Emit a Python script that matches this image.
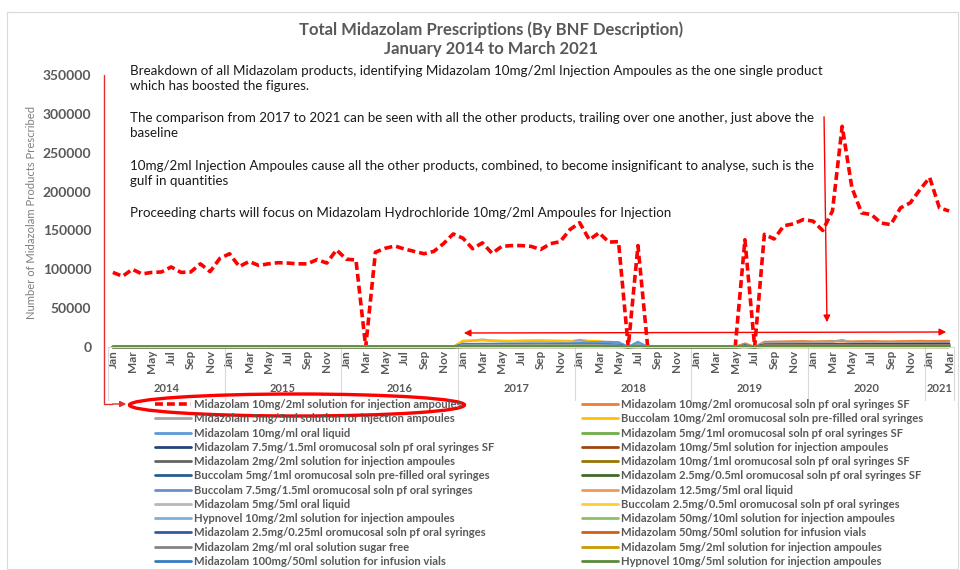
import numpy as np, pandas as pd, matplotlib.pyplot as plt, seaborn as sns
from matplotlib.lines import Line2D
from matplotlib.patches import Ellipse, Rectangle, FancyArrowPatch
import matplotlib.transforms as mtrans

sns.set_style("white")
plt.rcParams["font.family"] = ["Lato", "DejaVu Sans"]

# ---- data ---------------------------------------------------------------
months = pd.date_range("2014-01-01", "2021-03-01", freq="MS")
# months in which the other products were reported (Jan17-May18, Jul18, Jun19, Aug19-Mar21)
other_months = (list(pd.date_range("2017-01-01", "2018-05-01", freq="MS"))
                + [pd.Timestamp("2018-07-01"), pd.Timestamp("2019-06-01")]
                + list(pd.date_range("2019-08-01", "2021-03-01", freq="MS")))

inj_10mg_2ml = [96000, 91000, 100000, 94000, 96000, 96500, 103000, 96000, 96500, 107000, 97000, 114000,
                120000, 103500, 110000, 105000, 107000, 108500, 108000, 107000, 107000, 112500, 108000, 125000,
                113000, 112000, 0, 122000, 127000, 130000, 126000, 123000, 120000, 123000, 133000, 145500,
                140000, 126500, 134000, 120500, 129500, 130500, 130500, 129500, 125500, 133000, 135500, 151000,
                160000, 138000, 147000, 135000, 135500, 0, 130500, 0, 0, 0, 0, 0,
                0, 0, 0, 0, 0, 138000, 0, 145000, 139000, 156000, 158500, 164000,
                162000, 150000, 175000, 284000, 205000, 172500, 170500, 159500, 157500, 179000, 185500, 202500,
                218000, 179000, 175000]

oro_10mg_2ml_sf = [600, 700, 800, 700, 800, 900, 800, 900, 1000, 900, 1000, 1100, 1500, 1800, 2000, 2200, 2400, 3000, 4500,
                   6500, 6800, 7000, 7200, 7400, 7000, 7200, 7600, 7300, 7000, 7200, 7400, 7100, 7000, 7300, 7500, 7700, 7400, 7600, 7800]
inj_5mg_5ml = [7000, 8000, 9500, 8000, 7500, 7000, 7200, 7000, 7300, 7000, 6800, 7000, 9000, 7500, 7000, 6500, 6000, 3500, 2500,
               5000, 5200, 5500, 5400, 5600, 5800, 6500, 6500, 9000, 5500, 5200, 5400, 5300, 5500, 5600, 5800, 6000, 5500, 5300, 5200]
bucc_10mg_2ml = [8000, 8300, 8500, 8200, 8000, 7800, 8200, 8400, 8600, 8200, 8000, 7800, 5000, 7800, 7500, 4000, 3000, 1000, 300,
                 200, 200, 150, 150, 100, 100, 100, 100, 100, 100, 100, 100, 100, 100, 100, 100, 100, 100, 100, 100]
oral_10mg_ml = [3500, 3800, 4000, 4000, 4200, 4000, 4100, 4300, 4200, 4400, 4500, 4600, 5500, 5800, 6000, 6200, 5800, 6500, 1500,
                2500, 2800, 3000, 3000, 3200, 3100, 3300, 3500, 3400, 3300, 3200, 3400, 3300, 3200, 3300, 3400, 3500, 3300, 3200, 3300]
oro_5mg_1ml_sf = [300, 300, 400, 400, 400, 500, 500, 500, 500, 600, 600, 600, 700, 700, 800, 800, 900, 900, 1500,
                  2000, 2100, 2200, 2200, 2300, 2300, 2400, 2500, 2300, 2400, 2400, 2500, 2500, 2600, 2600, 2700, 2700, 2800, 2800, 2900]
oro_7_5mg_sf = [200, 200, 300, 300, 300, 300, 400, 400, 400, 400, 500, 500, 600, 600, 700, 700, 800, 900, 1800,
                3000, 3100, 3200, 3200, 3300, 3300, 3400, 3600, 3400, 3400, 3500, 3500, 3600, 3600, 3700, 3700, 3800, 3800, 3900, 3900]
inj_10mg_5ml = [1500, 1450, 1550, 1500, 1480, 1520, 1500, 1460, 1540, 1500, 1480, 1450, 1500, 1520, 1480, 1460, 1500, 700, 600,
                1400, 1450, 1500, 1480, 1520, 1500, 1550, 1700, 1500, 1480, 1460, 1500, 1520, 1480, 1500, 1450, 1480, 1500, 1520, 1480]
inj_2mg_2ml = [2500, 2600, 2700, 2500, 2400, 2500, 2600, 2500, 2400, 2500, 2600, 2500, 2700, 2600, 2500, 2400, 2300, 1200, 1000,
               2200, 2300, 2400, 2300, 2400, 2500, 2600, 3000, 2500, 2400, 2300, 2400, 2300, 2400, 2500, 2400, 2300, 2400, 2500, 2400]
oro_10mg_1ml_sf = [100, 100, 120, 120, 150, 150, 150, 180, 180, 200, 200, 220, 250, 250, 280, 300, 300, 350, 500,
                   800, 820, 850, 850, 880, 900, 900, 950, 900, 920, 940, 950, 960, 980, 1000, 1000, 1020, 1050, 1050, 1080]
bucc_5mg_1ml = [3200, 3300, 3500, 3400, 3500, 3600, 3500, 3600, 3700, 3600, 3500, 3600, 3800, 3700, 3600, 3000, 2500, 1200, 300,
                300, 280, 260, 250, 240, 230, 220, 210, 200, 200, 190, 180, 180, 170, 170, 160, 160, 150, 150, 150]
oro_2_5mg_sf = [50, 60, 60, 70, 70, 80, 80, 90, 90, 100, 100, 110, 120, 130, 140, 150, 160, 200, 500,
                1000, 1050, 1100, 1100, 1150, 1150, 1200, 1300, 1200, 1200, 1250, 1250, 1300, 1300, 1350, 1350, 1400, 1400, 1450, 1450]
bucc_7_5mg = [2800, 2900, 3000, 3000, 3100, 3100, 3000, 3200, 3200, 3100, 3000, 3100, 3300, 3200, 3100, 2600, 2200, 1000, 250,
              250, 240, 230, 220, 210, 200, 200, 190, 180, 180, 170, 170, 160, 160, 150, 150, 150, 140, 140, 140]
oral_12_5mg_5ml = [80, 90, 100, 90, 100, 110, 100, 110, 120, 110, 100, 110, 120, 130, 120, 110, 120, 60, 80,
                   180, 190, 200, 200, 210, 200, 210, 220, 200, 210, 200, 210, 220, 210, 200, 210, 220, 210, 200, 210]
oral_5mg_5ml = [700, 750, 800, 780, 800, 820, 800, 850, 830, 820, 800, 850, 900, 880, 860, 840, 820, 500, 600,
                1300, 1350, 1400, 1380, 1420, 1450, 1500, 1700, 1500, 1450, 1420, 1450, 1480, 1460, 1450, 1500, 1520, 1480, 1500, 1520]
bucc_2_5mg = [1300, 1350, 1400, 1450, 1400, 1500, 1450, 1500, 1550, 1500, 1450, 1500, 1600, 1550, 1500, 1200, 1000, 500, 100,
              100, 90, 90, 80, 80, 70, 70, 60, 60, 60, 50, 50, 50, 50, 40, 40, 40, 40, 30, 30]
hyp_10mg_2ml = [600, 620, 650, 600, 580, 600, 620, 600, 580, 560, 580, 600, 620, 600, 580, 560, 550, 300, 200,
                400, 420, 410, 400, 390, 400, 420, 500, 420, 400, 390, 380, 400, 410, 400, 390, 380, 400, 410, 400]
inj_50mg_10ml = [700, 720, 750, 700, 680, 700, 720, 700, 680, 700, 720, 740, 760, 740, 720, 700, 690, 350, 300,
                 800, 820, 850, 830, 850, 870, 900, 1100, 950, 900, 880, 860, 880, 900, 880, 860, 880, 900, 920, 900]
oro_2_5mg_025 = [150, 160, 170, 160, 170, 180, 170, 180, 190, 180, 170, 180, 190, 200, 190, 180, 190, 90, 120,
                 200, 210, 200, 210, 220, 210, 220, 230, 220, 210, 220, 210, 220, 230, 220, 210, 220, 230, 220, 210]
inf_50mg_50ml = [900, 950, 1000, 980, 1000, 1020, 1000, 1050, 1030, 1000, 980, 1000, 1100, 1080, 1050, 1020, 1000, 500, 700,
                 1600, 1650, 1700, 1750, 1800, 1850, 1900, 2200, 2100, 1900, 1800, 1850, 1900, 1950, 1900, 1850, 1900, 1950, 2000, 1950]
oral_2mg_ml_sf = [1100, 1150, 1200, 1180, 1200, 1220, 1200, 1250, 1230, 1200, 1180, 1200, 1300, 1280, 1250, 1220, 1200, 600, 800,
                  1800, 1850, 1900, 1880, 1920, 1950, 2000, 2300, 2000, 1950, 1920, 1950, 1980, 1960, 1950, 2000, 2020, 1980, 2000, 2020]
inj_5mg_2ml = [300, 310, 320, 300, 290, 300, 310, 300, 290, 280, 290, 300, 310, 300, 290, 280, 270, 150, 200,
               500, 520, 540, 550, 560, 580, 600, 700, 620, 600, 580, 590, 600, 610, 600, 590, 600, 610, 620, 610]
inf_100mg_50ml = [450, 470, 500, 480, 500, 520, 500, 520, 510, 500, 480, 500, 540, 520, 500, 480, 470, 250, 300,
                  600, 620, 650, 660, 680, 700, 720, 850, 750, 720, 700, 710, 720, 730, 720, 710, 720, 730, 740, 730]
hyp_10mg_5ml = [40, 40, 50, 40, 40, 50, 40, 40, 50, 40, 40, 50, 40, 40, 50, 40, 40, 20, 20,
                30, 30, 40, 30, 30, 40, 30, 30, 40, 30, 30, 40, 30, 30, 40, 30, 30, 40, 30, 30]

labels = [
    "Midazolam 10mg/2ml solution for injection ampoules",
    "Midazolam 10mg/2ml oromucosal soln pf oral syringes SF",
    "Midazolam 5mg/5ml solution for injection ampoules",
    "Buccolam 10mg/2ml oromucosal soln pre-filled oral syringes",
    "Midazolam 10mg/ml oral liquid",
    "Midazolam 5mg/1ml oromucosal soln pf oral syringes SF",
    "Midazolam 7.5mg/1.5ml oromucosal soln pf oral syringes SF",
    "Midazolam 10mg/5ml solution for injection ampoules",
    "Midazolam 2mg/2ml solution for injection ampoules",
    "Midazolam 10mg/1ml oromucosal soln pf oral syringes SF",
    "Buccolam 5mg/1ml oromucosal soln pre-filled oral syringes",
    "Midazolam 2.5mg/0.5ml oromucosal soln pf oral syringes SF",
    "Buccolam 7.5mg/1.5ml oromucosal soln pf oral syringes",
    "Midazolam 12.5mg/5ml oral liquid",
    "Midazolam 5mg/5ml oral liquid",
    "Buccolam 2.5mg/0.5ml oromucosal soln pf oral syringes",
    "Hypnovel 10mg/2ml solution for injection ampoules",
    "Midazolam 50mg/10ml solution for injection ampoules",
    "Midazolam 2.5mg/0.25ml oromucosal soln pf oral syringes",
    "Midazolam 50mg/50ml solution for infusion vials",
    "Midazolam 2mg/ml oral solution sugar free",
    "Midazolam 5mg/2ml solution for injection ampoules",
    "Midazolam 100mg/50ml solution for infusion vials",
    "Hypnovel 10mg/5ml solution for injection ampoules",
]
series = [inj_10mg_2ml, oro_10mg_2ml_sf, inj_5mg_5ml, bucc_10mg_2ml, oral_10mg_ml, oro_5mg_1ml_sf,
          oro_7_5mg_sf, inj_10mg_5ml, inj_2mg_2ml, oro_10mg_1ml_sf, bucc_5mg_1ml, oro_2_5mg_sf,
          bucc_7_5mg, oral_12_5mg_5ml, oral_5mg_5ml, bucc_2_5mg, hyp_10mg_2ml, inj_50mg_10ml,
          oro_2_5mg_025, inf_50mg_50ml, oral_2mg_ml_sf, inj_5mg_2ml, inf_100mg_50ml, hyp_10mg_5ml]
colors = ["#FF0000", "#ED7D31", "#A5A5A5", "#FFC000", "#5B9BD5", "#70AD47",
          "#264478", "#9E480E", "#636363", "#997300", "#255E91", "#43682B",
          "#698ED0", "#F1975A", "#B7B7B7", "#FFCD33", "#7CAFDD", "#8CC168",
          "#335AA1", "#D26012", "#848484", "#CC9A00", "#327DC2", "#5A8A39"]

frames = []
for lab, vals in zip(labels, series):
    idx = months if len(vals) == len(months) else other_months
    s = pd.Series(vals, index=idx).reindex(months, fill_value=0)
    frames.append(pd.DataFrame({"m": np.arange(len(months)), "value": s.values, "product": lab}))
df = pd.concat(frames, ignore_index=True)

# ---- figure -------------------------------------------------------------
W, H = 960, 570
fx = lambda px: px / W
fy = lambda py: 1 - py / H
fig = plt.figure(figsize=(9.6, 5.7), dpi=100)
ax = fig.add_axes([fx(108), fy(347), 846 / W, 272 / H])

RED = "#FF0000"
GREY = "#595959"
for i, (lab, col) in enumerate(zip(labels, colors)):
    d = df[df["product"] == lab]
    if i == 0:
        sns.lineplot(data=d, x="m", y="value", ax=ax, color=col, lw=2.6, estimator=None,
                     linestyle=(0, (2.2, 1.1)), dash_capstyle="butt", clip_on=False, zorder=2)
    else:
        sns.lineplot(data=d, x="m", y="value", ax=ax, color=col, lw=1.7, estimator=None,
                     clip_on=False, zorder=2 + i * 0.01)

ax.set_xlim(-0.5, len(months) - 0.5)
ax.set_ylim(0, 350000)
ax.set_xlabel("")
ax.set_ylabel("")
ax.set_yticks(range(0, 350001, 50000))
ax.set_yticklabels([str(v) for v in range(0, 350001, 50000)], fontsize=10, fontweight="bold", color=GREY)
ax.tick_params(axis="y", length=0, pad=12)
tick_pos = list(range(0, len(months), 2))
ax.set_xticks(tick_pos)
ax.set_xticklabels([months[i].strftime("%b") for i in tick_pos], rotation=90, fontsize=8.5,
                   fontweight="bold", color=GREY, va="top")
ax.tick_params(axis="x", length=0, pad=2)
for sp in ["left", "top", "right"]:
    ax.spines[sp].set_visible(False)
ax.spines["bottom"].set_color("#D9D9D9")

# year groups on the category axis
trans = mtrans.blended_transform_factory(ax.transData, ax.transAxes)
years = sorted(set(months.year))
for y in years:
    pos = np.where(months.year == y)[0]
    ax.text(pos.mean(), -0.151, str(y), transform=trans, ha="center", va="center",
            fontsize=8, fontweight="bold", color=GREY)
    ax.plot([pos[0] - 0.5] * 2, [0, -0.195], transform=trans, color="#D9D9D9", lw=0.8, clip_on=False)
ax.plot([len(months) - 0.5] * 2, [0, -0.195], transform=trans, color="#D9D9D9", lw=0.8, clip_on=False)

# titles and texts
fig.text(fx(491), fy(30), "Total Midazolam Prescriptions (By BNF Description)", ha="center", va="center",
         fontsize=12, fontweight="bold", color=GREY)
fig.text(fx(491), fy(49), "January 2014 to March 2021", ha="center", va="center",
         fontsize=12, fontweight="bold", color=GREY)
fig.text(fx(32), fy(212), "Number of Midazolam Products Prescribed", rotation=90, ha="center", va="center",
         fontsize=8.1, color="#7F7F7F")
notes = [
    (71, "Breakdown of all Midazolam products, identifying Midazolam 10mg/2ml Injection Ampoules as the one single product"),
    (86, "which has boosted the figures."),
    (118, "The comparison from 2017 to 2021 can be seen with all the other products, trailing over one another, just above the"),
    (133, "baseline"),
    (166, "10mg/2ml Injection Ampoules cause all the other products, combined, to become insignificant to analyse, such is the"),
    (181, "gulf in quantities"),
    (213, "Proceeding charts will focus on Midazolam Hydrochloride 10mg/2ml Ampoules for Injection"),
]
for py, t in notes:
    fig.text(fx(130), fy(py), t, ha="left", va="center", fontsize=9.6, color="#1A1A1A")

# legend (Excel fills rows first: odd entries left column, even entries right column)
handles = []
for i, (lab, col) in enumerate(zip(labels, colors)):
    if i == 0:
        handles.append(Line2D([], [], color=col, lw=2.6, linestyle=(0, (2.2, 1.1)), dash_capstyle="butt"))
    else:
        handles.append(Line2D([], [], color=col, lw=2.0))
for start, px in [(0, 155), (1, 582)]:
    fig.legend(handles[start::2], labels[start::2], loc="upper left", bbox_to_anchor=(fx(px), fy(399)),
               frameon=False, prop={"size": 8.1, "weight": "bold"}, labelcolor=GREY,
               handlelength=3.2, handletextpad=0.3, labelspacing=0.29, borderpad=0, borderaxespad=0)

# highlight annotations
fig.add_artist(Ellipse((fx(297), fy(405)), 335 / W, 22 / H, transform=fig.transFigure,
                       fill=False, edgecolor=RED, lw=2.4))
fig.add_artist(Line2D([fx(104), fx(104), fx(112)], [fy(75), fy(404), fy(404)], color="#E03030", lw=1.0))
fig.add_artist(FancyArrowPatch((fx(110), fy(404)), (fx(129), fy(404)), transform=fig.transFigure,
                               arrowstyle="-|>", mutation_scale=9, color="#E03030", lw=1.0))
fig.add_artist(FancyArrowPatch((fx(461), fy(333)), (fx(949), fy(332)), transform=fig.transFigure,
                               arrowstyle="<|-|>", mutation_scale=10, color=RED, lw=1.0))
fig.add_artist(FancyArrowPatch((fx(824), fy(114)), (fx(827), fy(325)), transform=fig.transFigure,
                               arrowstyle="-|>", mutation_scale=10, color=RED, lw=1.0))
fig.add_artist(Rectangle((fx(7), fy(569)), 951 / W, 557 / H, transform=fig.transFigure,
                         fill=False, edgecolor="#D9D9D9", lw=0.8))

fig.savefig("out.png", dpi=100)
